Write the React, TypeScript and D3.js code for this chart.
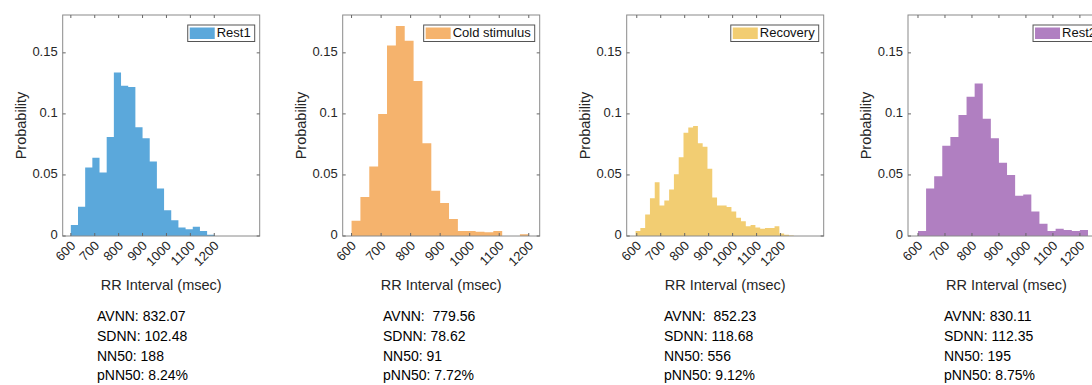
import * as d3 from "d3";
import React, { useEffect, useRef } from "react";

// condition names and bar colours
const labels = ["Rest1", "Cold stimulus", "Recovery", "Rest2"];
const colors = ["#5ba8db", "#f5b36d", "#f2cd72", "#b07fc1"];

const xTicks = [600, 700, 800, 900, 1000, 1100, 1200];
const yTicks = [0, 0.05, 0.1, 0.15];
const yTickLabels = ["0", "0.05", "0.1", "0.15"];

// histogram bins (left edge of the first bin, bin width in msec)
const binStarts = [600, 600, 595, 600];
const binWidths = [30, 30, 20, 30];

// probabilities
const rest1Prob = [
  0.009, 0.024, 0.056, 0.064, 0.052, 0.081, 0.134, 0.123, 0.122, 0.089,
  0.08, 0.061, 0.039, 0.021, 0.013, 0.007, 0.0055, 0.0075, 0.004, 0.001,
];
const coldProb = [
  0.0125, 0.032, 0.057, 0.1, 0.156, 0.172, 0.16, 0.127, 0.076, 0.037,
  0.027, 0.014, 0.004, 0.004, 0.0035, 0.003, 0.004, 0, 0, 0.0015,
];
const recoveryProb = [
  0.004, 0.0065, 0.0176, 0.031, 0.044, 0.025, 0.029, 0.038, 0.0505, 0.0645,
  0.0846, 0.0888, 0.09, 0.076, 0.073, 0.055, 0.0316, 0.025, 0.025, 0.0237,
  0.02, 0.015, 0.012, 0.008, 0.009, 0.007, 0.006, 0.0065, 0.0065, 0.008,
  0.002, 0.001, 0.0005,
];
const rest2Prob = [
  0.004, 0.039, 0.049, 0.074, 0.081, 0.099, 0.114, 0.125, 0.096, 0.08,
  0.06, 0.05, 0.033, 0.034, 0.02, 0.01, 0.004, 0.006, 0.005, 0.004, 0.005,
];
const probs = [rest1Prob, coldProb, recoveryProb, rest2Prob];

// x limits of each panel
const xDomains = [
  [566, 1390],
  [570, 1237],
  [558, 1380],
  [563, 1293],
];
const yMax = 0.181;

const stats = [
  ["AVNN: 832.07", "SDNN: 102.48", "NN50: 188", "pNN50: 8.24%"],
  ["AVNN:  779.56", "SDNN: 78.62", "NN50: 91", "pNN50: 7.72%"],
  ["AVNN:  852.23", "SDNN: 118.68", "NN50: 556", "pNN50: 9.12%"],
  ["AVNN: 830.11", "SDNN: 112.35", "NN50: 195", "pNN50: 8.75%"],
];

const W = 1092;
const H = 385;
const axLeft = [62.7, 342.7, 626.7, 908];
const axWidth = 197;
const axTop = 15;
const axBottom = 236;
const statsLeft = [97, 383, 664, 944];
const FONT = "'Liberation Sans', Arial, Helvetica, sans-serif";

export default function App() {
  const ref = useRef<SVGSVGElement>(null);

  useEffect(() => {
    const svg = d3.select(ref.current);
    svg.selectAll("*").remove();
    svg.append("rect").attr("width", W).attr("height", H).attr("fill", "#fff");

    const yScale = d3.scaleLinear().domain([0, yMax]).range([axBottom, axTop]);

    probs.forEach((p, k) => {
      const x0 = axLeft[k];
      const x1 = x0 + axWidth;
      const xScale = d3.scaleLinear().domain(xDomains[k]).range([x0, x1]);
      const g = svg.append("g").attr("font-family", FONT);

      const bins = p.map((v, i) => ({
        lo: binStarts[k] + i * binWidths[k],
        hi: binStarts[k] + (i + 1) * binWidths[k],
        v,
      }));

      // bars drawn as one outline path so no seams show between bins
      const area = d3
        .area<{ x: number; v: number }>()
        .curve(d3.curveStepAfter)
        .x((d) => xScale(d.x))
        .y0(yScale(0))
        .y1((d) => yScale(d.v));
      const pts = bins.map((b) => ({ x: b.lo, v: b.v }));
      pts.push({ x: bins[bins.length - 1].hi, v: 0 });
      g.append("path").attr("d", area(pts)).attr("fill", colors[k]);

      // box
      g.append("rect")
        .attr("x", x0)
        .attr("y", axTop)
        .attr("width", axWidth)
        .attr("height", axBottom - axTop)
        .attr("fill", "none")
        .attr("stroke", "#8a8a8a")
        .attr("stroke-width", 1);

      // x ticks, inside on top and bottom
      xTicks.forEach((t) => {
        const x = xScale(t);
        g.append("line").attr("x1", x).attr("x2", x).attr("y1", axBottom).attr("y2", axBottom - 3).attr("stroke", "#666");
        g.append("line").attr("x1", x).attr("x2", x).attr("y1", axTop).attr("y2", axTop + 3).attr("stroke", "#666");
        g.append("text")
          .attr("transform", `translate(${x + 3},${axBottom + 8}) rotate(-45)`)
          .attr("text-anchor", "end")
          .attr("dominant-baseline", "middle")
          .attr("font-size", 13)
          .attr("fill", "#262626")
          .text(t);
      });

      // y ticks, inside on left and right
      yTicks.forEach((t, i) => {
        const y = yScale(t);
        g.append("line").attr("x1", x0).attr("x2", x0 + 3).attr("y1", y).attr("y2", y).attr("stroke", "#666");
        g.append("line").attr("x1", x1).attr("x2", x1 - 3).attr("y1", y).attr("y2", y).attr("stroke", "#666");
        g.append("text")
          .attr("x", x0 - 5)
          .attr("y", y)
          .attr("text-anchor", "end")
          .attr("dominant-baseline", "middle")
          .attr("font-size", 13)
          .attr("fill", "#262626")
          .text(yTickLabels[i]);
      });

      g.append("text")
        .attr("transform", `translate(${x0 - 37},${(axTop + axBottom) / 2}) rotate(-90)`)
        .attr("text-anchor", "middle")
        .attr("font-size", 14.5)
        .attr("fill", "#262626")
        .text("Probability");

      g.append("text")
        .attr("x", (x0 + x1) / 2)
        .attr("y", 290)
        .attr("text-anchor", "middle")
        .attr("font-size", 14.5)
        .attr("fill", "#262626")
        .text("RR Interval (msec)");

      // legend
      const leg = g.append("g");
      const legText = leg
        .append("text")
        .attr("font-size", 13)
        .attr("fill", "#111")
        .attr("dominant-baseline", "middle")
        .text(labels[k]);
      const tw = (legText.node() as SVGTextElement).getComputedTextLength();
      const lw = 29 + tw + 4;
      const lx = x1 - 5 - lw;
      const ly = axTop + 10;
      const lh = 16.5;
      leg.insert("rect", "text")
        .attr("x", lx)
        .attr("y", ly)
        .attr("width", lw)
        .attr("height", lh)
        .attr("fill", "#fff")
        .attr("stroke", "#555")
        .attr("stroke-width", 1);
      leg.insert("rect", "text")
        .attr("x", lx + 2)
        .attr("y", ly + 2.5)
        .attr("width", 25)
        .attr("height", lh - 5)
        .attr("fill", colors[k]);
      legText.attr("x", lx + 29).attr("y", ly + lh / 2 + 0.5);

      // summary statistics
      svg.append("g")
        .selectAll("text")
        .data(stats[k])
        .enter()
        .append("text")
        .attr("x", statsLeft[k])
        .attr("y", (d, i) => 321 + i * 19.8)
        .attr("font-family", FONT)
        .attr("font-size", 14)
        .attr("fill", "#000")
        .style("white-space", "pre")
        .text((d) => d);
    });
  }, []);

  return (
    <svg
      ref={ref}
      width={W}
      height={H}
      style={{ position: "absolute", left: 0, top: 0, display: "block" }}
    />
  );
}
